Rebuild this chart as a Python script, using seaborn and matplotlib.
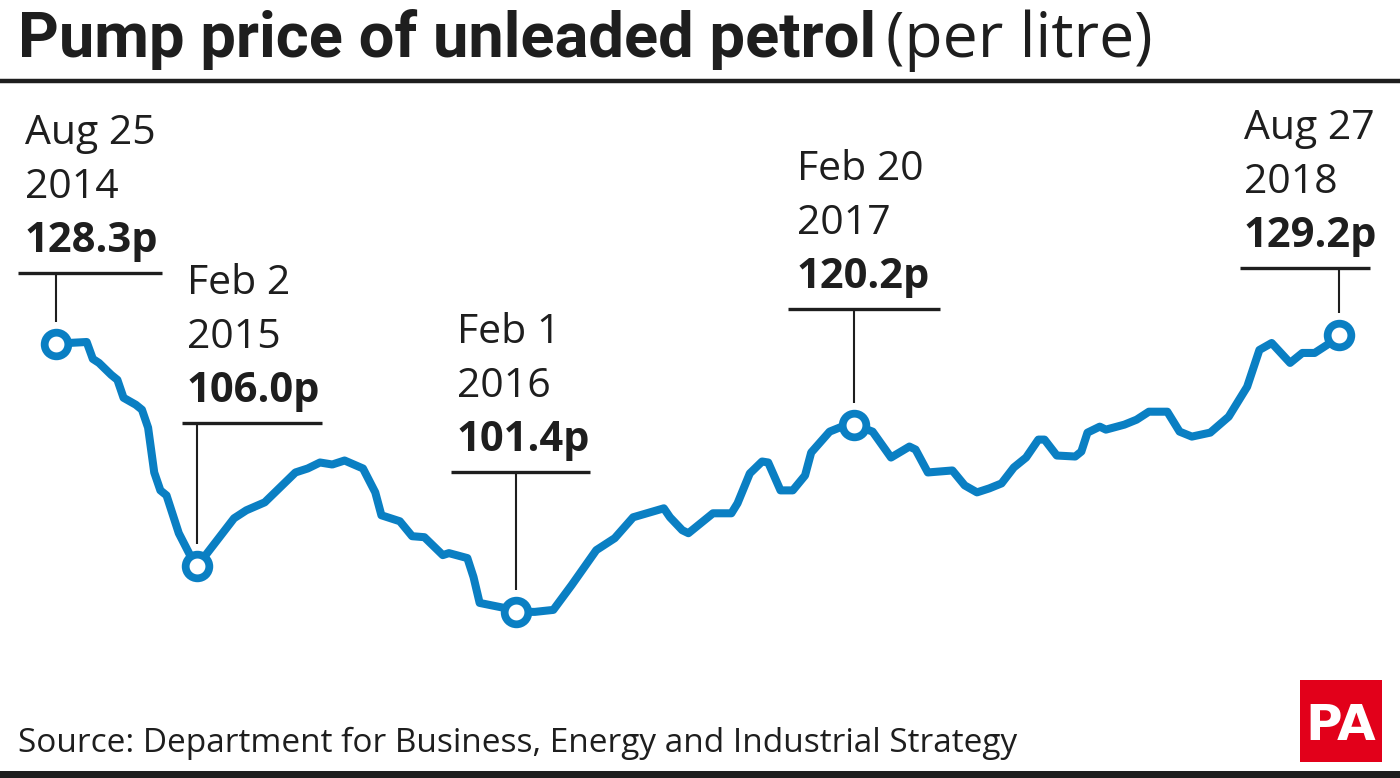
import numpy as np
import pandas as pd
import matplotlib
matplotlib.use("Agg")
import matplotlib.pyplot as plt
import matplotlib.dates as mdates
import seaborn as sns

sns.set_theme(style="white")
plt.rcParams["font.family"] = ["Open Sans", "DejaVu Sans"]

# -----------------------------
# Data (weekly pump prices, pence per litre)
# -----------------------------
start = pd.Timestamp("2014-08-25")
weeks = [0, 2, 5, 6, 7, 9, 10, 11, 13, 14, 15, 16, 17, 18, 20, 22, 23, 25, 29, 31,
         34, 36, 39, 41, 43, 45, 47, 50, 51, 52, 53, 56, 58, 60, 63, 64, 67, 68, 69, 73,
         75, 78, 81, 84, 88, 91, 94, 99, 100, 102, 103, 105, 107, 110, 111, 113, 115, 116, 118, 120,
         122, 123, 126, 128, 130, 133, 136, 139, 140, 142, 146, 148, 150, 152, 154, 156, 158, 160, 161, 163,
         166, 167, 168, 170, 171, 174, 176, 178, 181, 183, 185, 188, 191, 194, 196, 198, 201, 203, 205, 207,
         209]
price = [128.3, 128.4, 128.5, 126.8, 126.4, 125.2, 124.7, 122.9, 122.2, 121.7, 119.9, 115.4, 113.6, 113.1, 109.3, 106.9, 106.0, 107.6, 110.8, 111.6,
         112.4, 113.6, 115.4, 115.8, 116.4, 116.2, 116.6, 115.8, 114.6, 113.4, 111.1, 110.5, 109.0, 108.9, 107.1, 107.3, 106.8, 104.9, 102.3, 101.8,
         101.4, 101.4, 101.6, 104.1, 107.6, 108.8, 110.9, 111.8, 110.9, 109.6, 109.3, 110.3, 111.3, 111.3, 112.3, 115.3, 116.5, 116.4, 113.6, 113.6,
         115.1, 117.4, 119.5, 120.0, 120.2, 119.5, 116.9, 118.0, 117.7, 115.4, 115.6, 114.1, 113.4, 113.8, 114.3, 115.9, 116.9, 118.7, 118.7, 117.1,
         117.0, 117.5, 119.4, 120.0, 119.7, 120.2, 120.7, 121.5, 121.5, 119.5, 119.0, 119.4, 121.0, 124.0, 127.7, 128.4, 126.4, 127.4, 127.4, 128.2,
         129.2]

ann_weeks = [0, 23, 75, 130, 209]
ann_dates = ["Aug 25", "Feb 2", "Feb 1", "Feb 20", "Aug 27"]
ann_years = ["2014", "2015", "2016", "2017", "2018"]
ann_price = [128.3, 106.0, 101.4, 120.2, 129.2]

df = pd.DataFrame({"date": start + pd.to_timedelta(np.array(weeks) * 7, unit="D"),
                   "price": price})
ann = pd.DataFrame({"date": start + pd.to_timedelta(np.array(ann_weeks) * 7, unit="D"),
                    "price": ann_price})

BLUE = "#0a7fc3"
INK = "#1e1e1e"
W, H = 1400, 778

# -----------------------------
# Figure
# -----------------------------
fig = plt.figure(figsize=(W / 100, H / 100), dpi=100)
fig.patch.set_facecolor("white")

ax = fig.add_axes([0, 0, 1, 1])
sns.lineplot(data=df, x="date", y="price", ax=ax, color=BLUE, lw=5.8,
             solid_joinstyle="round", solid_capstyle="round")
sns.scatterplot(data=ann, x="date", y="price", ax=ax, s=290, color="white",
                edgecolor=BLUE, linewidth=5.6, zorder=5)
ax.set_xlim(start - pd.Timedelta(weeks=9.12), start + pd.Timedelta(weeks=218.9))
ax.set_ylim(84.72, 162.84)
ax.axis("off")

# overlay in pixel coordinates (top-left origin)
ov = fig.add_axes([0, 0, 1, 1], facecolor="none")
ov.set_xlim(0, W)
ov.set_ylim(H, 0)
ov.axis("off")

# title
t1 = ov.text(18, 57, "Pump price of unleaded petrol", fontsize=45.5, fontweight="bold",
             color=INK, family=["Roboto", "DejaVu Sans"], va="baseline")
fig.canvas.draw()
bb = t1.get_window_extent(fig.canvas.get_renderer())
ov.text(bb.x1 + 10, 57, "(per litre)", fontsize=45, color=INK,
        family=["Open Sans", "DejaVu Sans"], va="baseline")
ov.plot([0, W], [81, 81], color=INK, lw=3.2, solid_capstyle="butt")

# annotations
text_x = [25, 187, 457, 797, 1244]
rule_y = [273, 423, 472, 309, 268]
rule_x = [(18, 162), (182, 322), (451, 590), (788, 940), (1240, 1370)]
for i in range(len(ann_weeks)):
    px, py = ax.transData.transform((mdates.date2num(ann["date"][i]), ann_price[i]))
    py = H - py
    ry = rule_y[i]
    ov.text(text_x[i], ry - 129, ann_dates[i], fontsize=29.5, color=INK, va="baseline")
    ov.text(text_x[i], ry - 75, ann_years[i], fontsize=29.5, color=INK, va="baseline")
    ov.text(text_x[i], ry - 21, f"{ann_price[i]:.1f}p", fontsize=30, fontweight="bold",
            color=INK, va="baseline")
    ov.plot(rule_x[i], [ry, ry], color=INK, lw=2.4, solid_capstyle="butt")
    ov.plot([px, px], [ry, py - 22], color=INK, lw=1.5, solid_capstyle="butt")

# source and footer
ov.text(18, 752, "Source: Department for Business, Energy and Industrial Strategy",
        fontsize=24, color=INK, va="baseline")
ov.add_patch(plt.Rectangle((1300, 680), 82, 82, color="#e2001a", lw=0))
ov.text(1341, 740, "PA", fontsize=36, fontweight="bold", color="white", ha="center",
        va="baseline", family=["Liberation Sans Narrow", "DejaVu Sans"])
ov.add_patch(plt.Rectangle((0, 771), W, 7, color=INK, lw=0))

fig.savefig("out.png", dpi=100)
